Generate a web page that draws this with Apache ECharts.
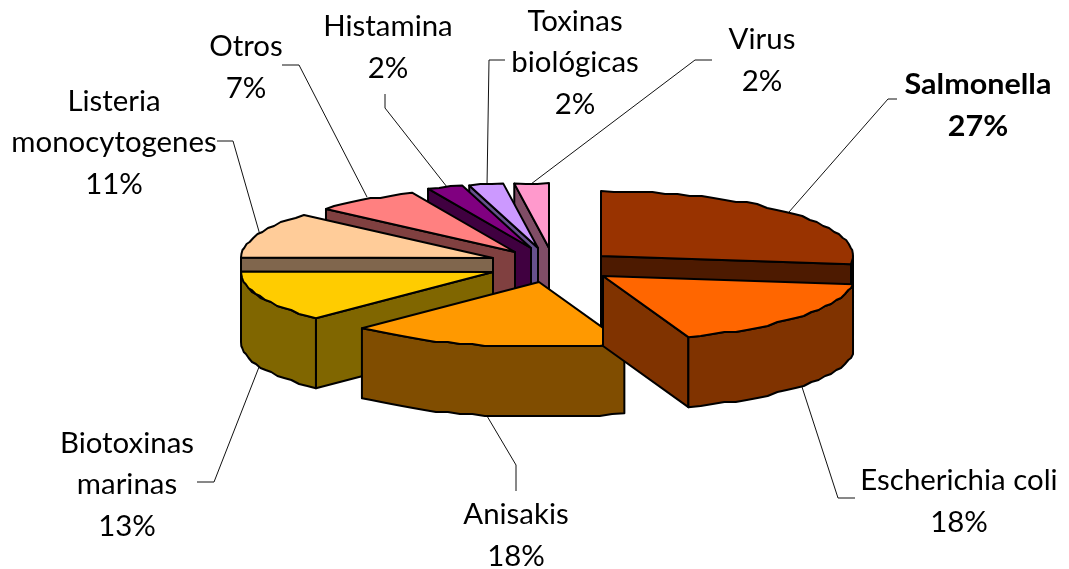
<!DOCTYPE html>
<html>
<head>
<meta charset="utf-8">
<style>html,body{margin:0;padding:0;background:#fff}#c{width:1069px;height:569px}</style>
<script src="https://cdn.jsdelivr.net/npm/echarts@6/dist/echarts.min.js"></script>
</head>
<body>
<div id="c"></div>
<script>
// --- data ---
const categories = ['Salmonella','Escherichia coli','Anisakis','Biotoxinas marinas','Listeria monocytogenes','Otros','Histamina','Toxinas biológicas','Virus'];
const values = [27, 17.5, 17.9, 12.7, 11.4, 6.8, 2.3, 2.2, 2.2];
const labelLines = [['Salmonella'],['Escherichia coli'],['Anisakis'],['Biotoxinas','marinas'],['Listeria','monocytogenes'],['Otros'],['Histamina'],['Toxinas','biológicas'],['Virus']];
// --- styling and layout ---
const topColors = ['#993300','#FF6600','#FF9900','#FFCC00','#FFCC99','#FF8080','#800080','#CC99FF','#FF99CC'];
const sideColors = ['#4D1A00','#803300','#804D00','#806600','#80664D','#804040','#400040','#66508C','#804D66'];
const apexX = [601,603,539,493,493,515,531,538,549];
const apexY = [256,276,282,272,258,252,248,248,248];
const paintOrder = [8,7,6,5,4,0,3,2,1];
const labelX = [978,959,516,127,114,246,388,575,762];
const labelY = [106,502,536,485,143,68,48,63,61];
const leaderPaths = [
  [[789,212],[888,99],[897,99]],
  [[802,387],[838,498],[855,498]],
  [[487,416],[516,465],[516,491]],
  [[259,367],[214,482],[197,482]],
  [[260,235],[233,141],[217,141]],
  [[367,197],[299,65],[282,65]],
  [[447,187],[385,108],[385,94]],
  [[487,186],[489,60],[505,60]],
  [[531,184],[695,60],[712,60]]
];
const RX = 252, RY = 65, DEPTH = 70, STEP = 3, SNAP = 2;

const total = values.reduce((a,b)=>a+b,0);
const cum = [0];
values.forEach((v,i)=>cum.push(cum[i]+v));
const ang = p => p/total*360;
const pt = (i,d,dz) => {
  const r = d*Math.PI/180;
  return [apexX[i]+RX*Math.sin(r), apexY[i]-RY*Math.cos(r)+(dz||0)];
};
const rim = (i,a0,a1,dz) => {
  const pts = [];
  const n = Math.max(1,Math.ceil((a1-a0)/STEP));
  for(let k=0;k<=n;k++){
    const p = pt(i,a0+(a1-a0)*k/n,0);
    const edge = (k===0||k===n);
    pts.push([p[0], (edge?p[1]:Math.round(p[1]/SNAP)*SNAP)+(dz||0)]);
  }
  return pts;
};
const poly = (points,fill) => ({type:'polygon',shape:{points:points},
  style:{fill:fill,stroke:'#000',lineWidth:2,lineJoin:'round'}});

function renderSlice(params,api){
  const i = api.value(0);
  const a0 = ang(cum[i]), a1 = ang(cum[i+1]);
  const c = [apexX[i],apexY[i]];
  const c2 = [c[0],c[1]+DEPTH];
  const s = pt(i,a0), e = pt(i,a1);
  const children = [];
  const side = sideColors[i];
  // radial faces, only those turned towards the viewer
  if(a0>=180) children.push(poly([c,s,[s[0],s[1]+DEPTH],c2],side));
  if(a1<=180) children.push(poly([c,e,[e[0],e[1]+DEPTH],c2],side));
  // outer wall, visible only on the front half
  const f0 = Math.max(a0,90), f1 = Math.min(a1,270);
  if(f1>f0){
    const up = rim(i,f0,f1,0), lo = rim(i,f0,f1,DEPTH).reverse();
    children.push(poly(up.concat(lo),side));
  }
  // top
  children.push(poly([c].concat(rim(i,a0,a1,0)),topColors[i]));
  return {type:'group',children:children};
}
function renderLeader(params,api){
  const i = api.value(0);
  return {type:'polyline',shape:{points:leaderPaths[i]},style:{fill:null,stroke:'#111',lineWidth:1}};
}
function renderLabel(params,api){
  const i = api.value(0);
  const pct = Math.round(values[i]/total*100)+'%';
  return {type:'text',x:labelX[i],y:labelY[i],scaleX:i===0?1.09:1.05,style:{
    text:labelLines[i].concat([pct]).join('\n'),
    x:0,y:0,align:'center',verticalAlign:'middle',lineHeight:41.5,
    font:(i===0?'bold ':'')+'28px Lato',fill:'#000'}};
}
const chart = echarts.init(document.getElementById('c'),null,{renderer:'canvas'});
chart.setOption({
  animation:false,
  backgroundColor:'#fff',
  series:[
    {type:'custom',coordinateSystem:'none',z:1,silent:true,renderItem:renderLeader,data:categories.map((n,i)=>({name:n,value:[i,values[i]]}))},
    {type:'custom',coordinateSystem:'none',z:2,silent:true,renderItem:renderSlice,data:paintOrder.map(i=>({name:categories[i],value:[i,values[i]]}))},
    {type:'custom',coordinateSystem:'none',z:3,silent:true,renderItem:renderLabel,data:categories.map((n,i)=>({name:n,value:[i,values[i]]}))}
  ]
});
</script>
</body>
</html>
